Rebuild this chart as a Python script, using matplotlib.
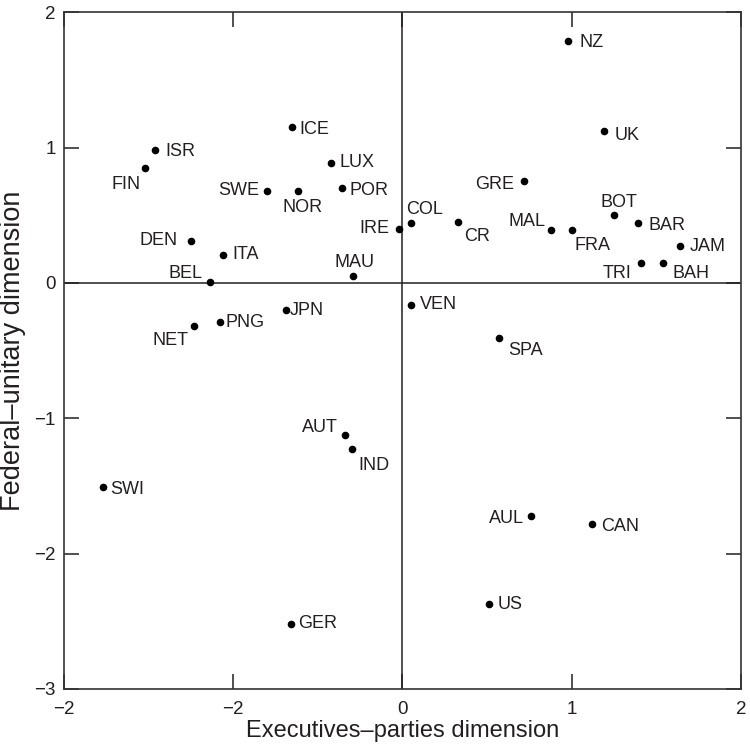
import matplotlib
matplotlib.use('Agg')
import matplotlib.pyplot as plt

# country codes and their scores on the two dimensions
paises = ['ICE', 'ISR', 'FIN', 'LUX', 'SWE', 'NOR', 'POR', 'IRE', 'DEN', 'ITA',
          'BEL', 'MAU', 'JPN', 'PNG', 'NET', 'SWI', 'AUT', 'IND', 'GER',
          'NZ', 'UK', 'GRE', 'COL', 'CR', 'MAL', 'FRA', 'BOT', 'BAR', 'JAM',
          'TRI', 'BAH', 'VEN', 'SPA', 'AUL', 'CAN', 'US']
exec_partidos = [-0.65, -1.46, -1.52, -0.42, -0.80, -0.62, -0.36, -0.02, -1.25, -1.06,
                 -1.14, -0.29, -0.69, -1.08, -1.23, -1.77, -0.34, -0.30, -0.66,
                 0.98, 1.19, 0.72, 0.05, 0.33, 0.88, 1.00, 1.25, 1.39, 1.64,
                 1.41, 1.54, 0.05, 0.57, 0.76, 1.12, 0.51]
fed_unitario = [1.15, 0.98, 0.85, 0.89, 0.68, 0.68, 0.70, 0.40, 0.31, 0.21,
                0.01, 0.05, -0.20, -0.29, -0.32, -1.51, -1.12, -1.23, -2.52,
                1.79, 1.12, 0.75, 0.44, 0.45, 0.39, 0.39, 0.50, 0.44, 0.27,
                0.15, 0.15, -0.16, -0.41, -1.72, -1.78, -2.37]

xticks = [-2, -1, 0, 1, 2]
xtick_labels = ['\u22122', '\u22122', '0', '1', '2']
yticks = [-3, -2, -1, 0, 1, 2]
ytick_labels = ['\u22123', '\u22122', '\u22121', '0', '1', '2']

# where each label sits relative to its dot (pixels, alignment)
posicao = {
    'ICE': (7, -2, 'left'), 'ISR': (10, -1, 'left'), 'FIN': (-5, -17, 'right'),
    'LUX': (8, 0, 'left'), 'SWE': (-8, 0, 'right'), 'NOR': (5, -17, 'center'),
    'POR': (8, -2, 'left'), 'IRE': (-10, 0, 'right'), 'DEN': (-13, 1, 'right'),
    'ITA': (9, 0, 'left'), 'BEL': (-7, 8, 'right'), 'MAU': (1, 14, 'center'),
    'JPN': (4, 0, 'left'), 'PNG': (6, 0, 'left'), 'NET': (-6, -14, 'right'),
    'SWI': (7, -2, 'left'), 'AUT': (-7, 7, 'right'), 'IND': (7, -16, 'left'),
    'GER': (7, 1, 'left'), 'NZ': (11, -2, 'left'), 'UK': (11, -4, 'left'),
    'GRE': (-10, -3, 'right'), 'COL': (-5, 14, 'left'), 'CR': (6, -14, 'left'),
    'MAL': (-6, 9, 'right'), 'FRA': (3, -15, 'left'), 'BOT': (5, 13, 'center'),
    'BAR': (11, -2, 'left'), 'JAM': (10, 0, 'left'), 'TRI': (-10, -11, 'right'),
    'BAH': (9, -11, 'left'), 'VEN': (9, 0, 'left'), 'SPA': (9, -12, 'left'),
    'AUL': (-7, -3, 'right'), 'CAN': (9, -3, 'left'), 'US': (9, -1, 'left'),
}

cor = '#231f20'
plt.rcParams['font.family'] = ['Liberation Sans', 'DejaVu Sans']

fig = plt.figure(figsize=(7.5, 7.45), dpi=100)
ax = fig.add_axes([0.0853, 0.0752, 0.9027, 0.9083])

ax.axhline(0, color=cor, lw=1.1, zorder=1)
ax.axvline(0, color=cor, lw=1.1, zorder=1)
ax.scatter(exec_partidos, fed_unitario, s=20, color='black', zorder=3)

for nome, x, y in zip(paises, exec_partidos, fed_unitario):
    dx, dy, ha = posicao[nome]
    ax.annotate(nome, (x, y), xytext=(dx, dy), textcoords='offset pixels',
                ha=ha, va='center', fontsize=13, color=cor)

ax.set_xlim(-2, 2)
ax.set_ylim(-3, 2)
ax.set_xticks(xticks)
ax.set_xticklabels(xtick_labels)
ax.set_yticks(yticks)
ax.set_yticklabels(ytick_labels)
ax.tick_params(direction='in', length=11, width=1.1, top=True, right=True,
               labelsize=13.5, colors=cor, pad=6)
ax.tick_params(axis='x', pad=9)
for lado in ax.spines.values():
    lado.set_linewidth(1.2)
    lado.set_color('#333333')

ax.set_xlabel('Executives\u2013parties dimension', fontsize=17, color=cor, labelpad=1)
ax.set_ylabel('Federal\u2013unitary dimension', fontsize=19.5, color=cor, labelpad=6)

fig.savefig('out.png', dpi=100)
